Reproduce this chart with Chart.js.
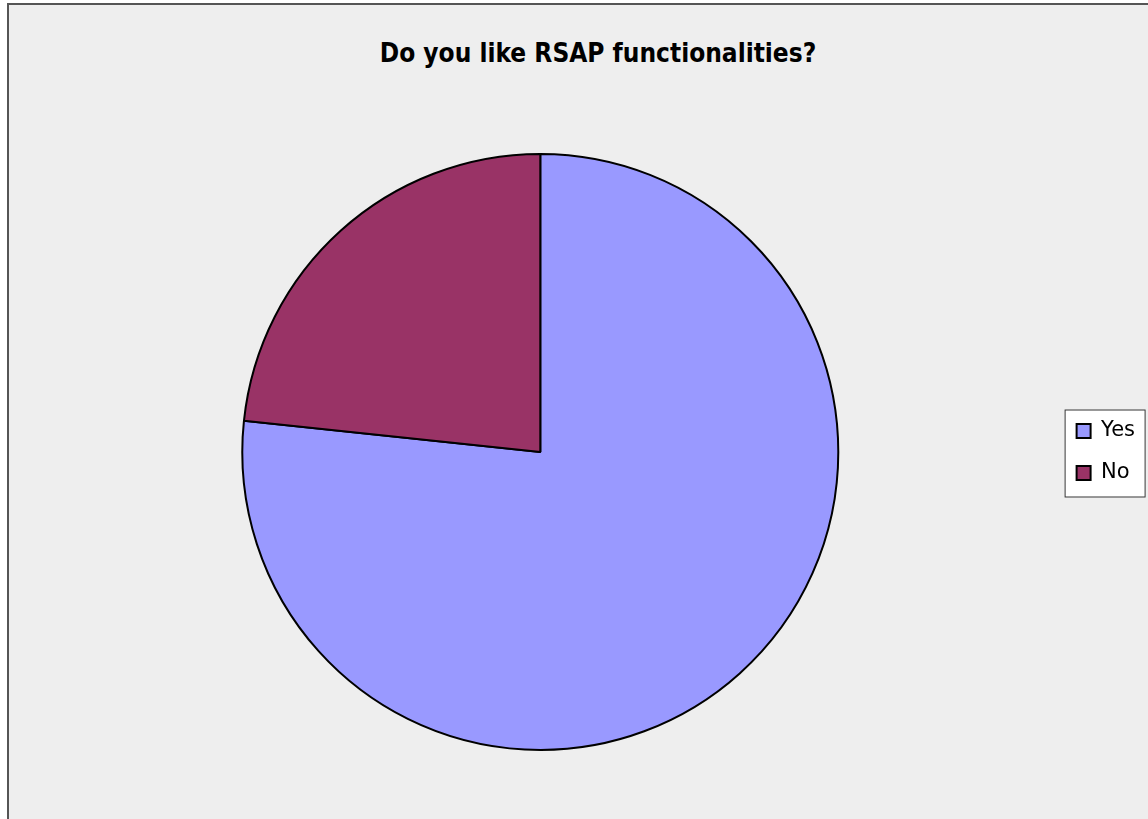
<!DOCTYPE html>
<html>
<head>
<meta charset="utf-8">
<script src="https://cdn.jsdelivr.net/npm/chart.js@4"></script>
<style>
    html, body { margin: 0; padding: 0; background: #fff; overflow: hidden; }
    #frame {
        position: absolute; left: 7px; top: 3px; width: 1200px; height: 900px;
        border-left: 2px solid #555; border-top: 2px solid #555;
        background: #eeeeee;
    }
    #chartTitle {
        position: absolute; left: 0; top: 38px; width: 1196px;
        text-align: center; line-height: 26px;
        font: bold 26px "DejaVu Sans Condensed", "DejaVu Sans", sans-serif;
        color: #000;
    }
    #chartBox { position: absolute; left: 0; top: 0; }
</style>
</head>
<body>
<div id="frame"></div>
<div id="chartTitle">Do you like RSAP functionalities?</div>
<div id="chartBox"><canvas id="chartCircle" width="1148" height="819"></canvas></div>
<script>
    const answers = ['Yes', 'No'];
    const votes = [23, 7];
    const sliceColors = ['#9999ff', '#993366'];

    // white box with a dark border behind the legend entries
    const legendFrame = {
        id: 'legendFrame',
        beforeDraw(chart) {
            const boxes = chart.legend && chart.legend.legendHitBoxes;
            if (!boxes || !boxes.length) return;
            var left = Math.min(...boxes.map(b => b.left));
            var top = Math.min(...boxes.map(b => b.top));
            var bottom = Math.max(...boxes.map(b => b.top + b.height));
            const ctx = chart.ctx;
            ctx.save();
            ctx.fillStyle = '#ffffff';
            ctx.strokeStyle = '#333333';
            ctx.lineWidth = 1;
            ctx.fillRect(left - 12, top - 11, 81, bottom - top + 25);
            ctx.strokeRect(left - 11.5, top - 10.5, 80, bottom - top + 24);
            ctx.restore();
        }
    };

    Chart.defaults.font.family = '"DejaVu Sans", sans-serif';

    new Chart(document.getElementById('chartCircle'), {
        type: 'pie',
        data: {
            labels: answers,
            datasets: [{
                data: votes,
                backgroundColor: sliceColors,
                borderColor: '#000000',
                borderWidth: 2
            }]
        },
        options: {
            responsive: false,
            animation: false,
            layout: { padding: { top: 153, bottom: 68, left: 25, right: 3 } },
            plugins: {
                title: { display: false },
                tooltip: { enabled: false },
                legend: {
                    position: 'right',
                    labels: {
                        color: '#000',
                        font: { size: 21 },
                        boxWidth: 14,
                        boxHeight: 14,
                        padding: 21
                    }
                }
            }
        },
        plugins: [legendFrame]
    });
</script>
</body>
</html>
